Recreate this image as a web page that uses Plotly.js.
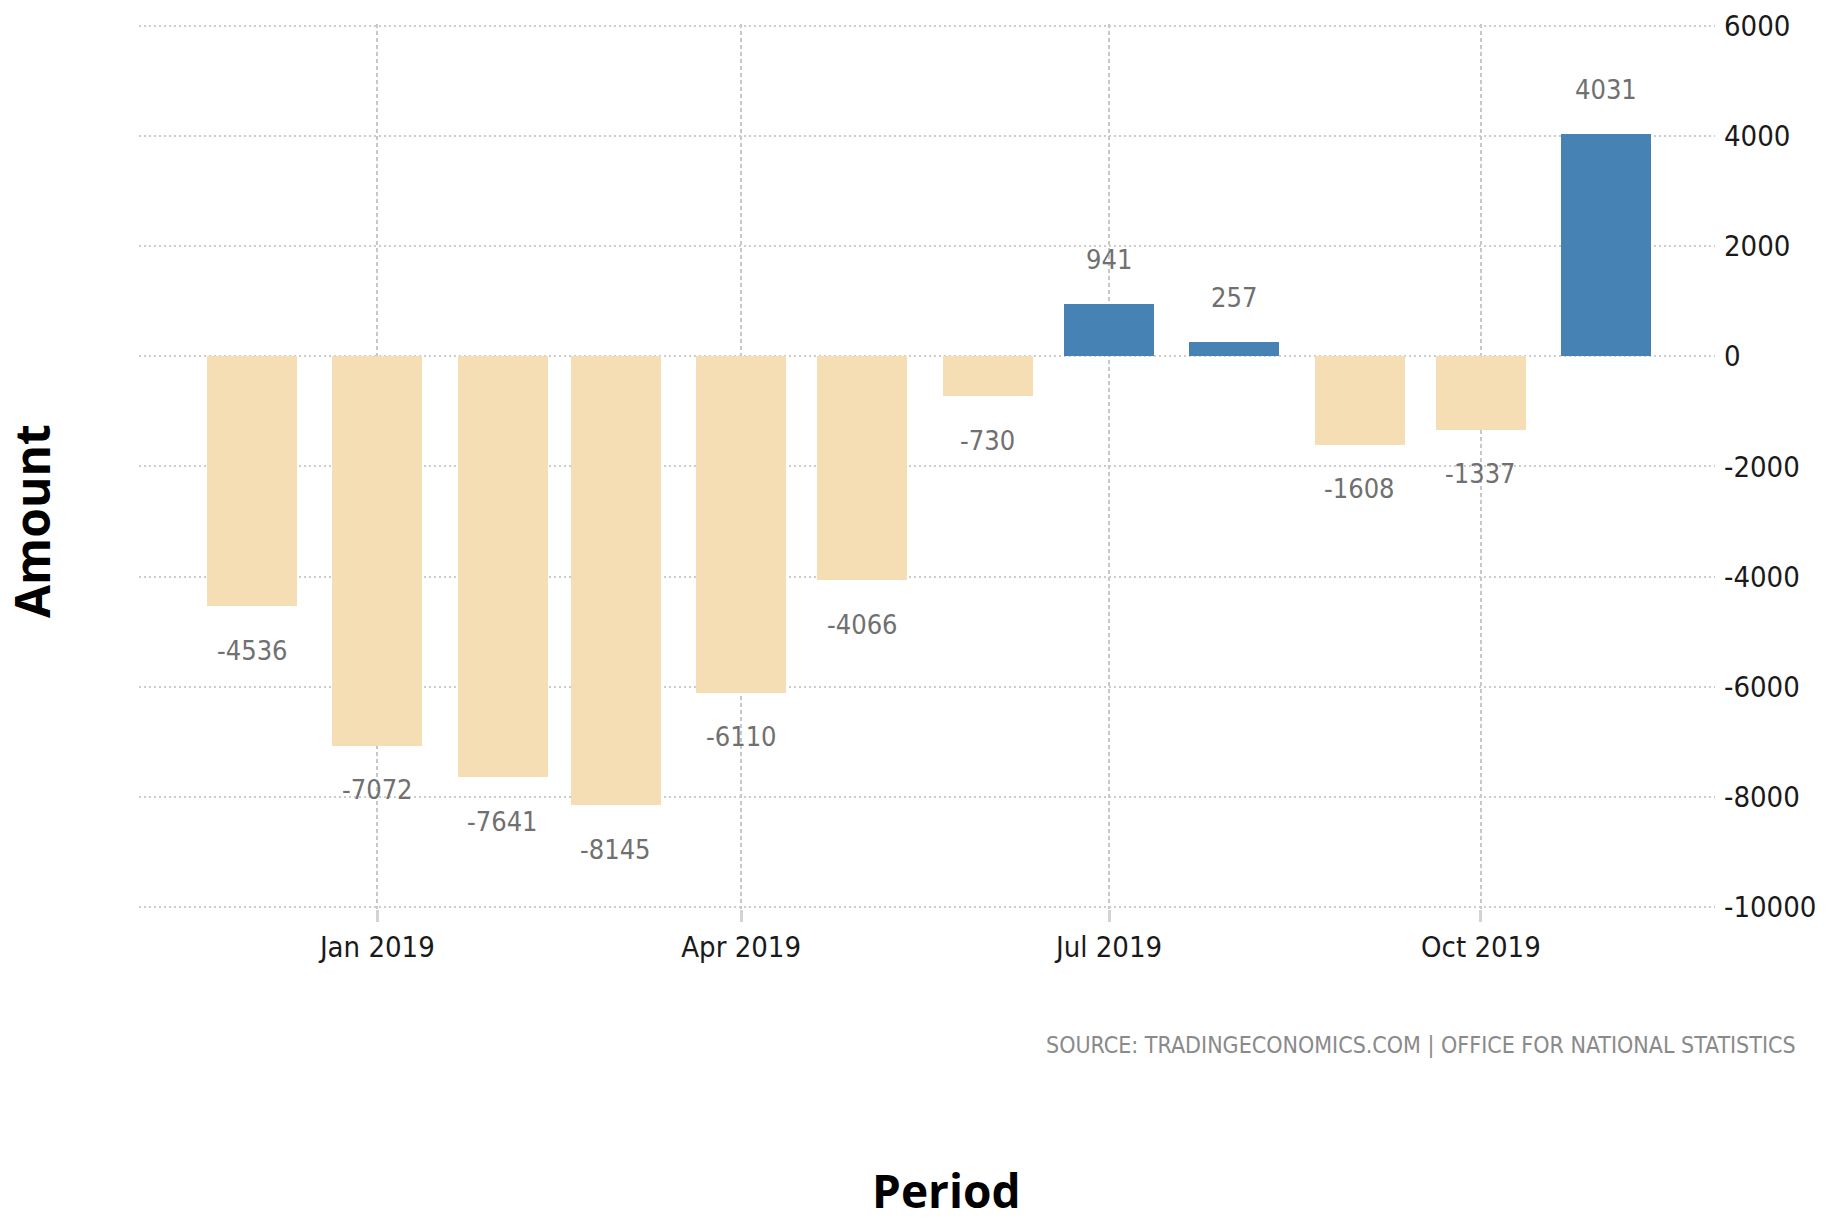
<!DOCTYPE html>
<html>
<head>
<meta charset="utf-8">
<script src="https://cdn.plot.ly/plotly-3.0.1.min.js"></script>
<style>html,body{margin:0;padding:0;background:#fff;}#chart{width:1827px;height:1221px;}</style>
</head>
<body>
<div id="chart"></div>
<script>
// ---- data ----
const months = ['2018-12-01','2019-01-01','2019-02-01','2019-03-01','2019-04-01','2019-05-01',
                '2019-06-01','2019-07-01','2019-08-01','2019-09-01','2019-10-01','2019-11-01'];
const values = [-4536, -7072, -7641, -8145, -6110, -4066, -730, 941, 257, -1608, -1337, 4031];
const xTickVals = ['2019-01-01','2019-04-01','2019-07-01','2019-10-01'];
const xTickText = ['Jan 2019','Apr 2019','Jul 2019','Oct 2019'];
const yTickVals = [6000, 4000, 2000, 0, -2000, -4000, -6000, -8000, -10000];
const yTickText = yTickVals.map(v => String(v));
const sourceText = 'SOURCE: TRADINGECONOMICS.COM | OFFICE FOR NATIONAL STATISTICS';

// ---- styling ----
const POS = '#4682B4', NEG = '#F5DEB3';
const NARROW = '"Liberation Sans Narrow", "DejaVu Sans Condensed", "Arial Narrow", sans-serif';
const DAY = 86400000;

const trace = {
  type: 'bar',
  x: months,
  y: values,
  width: months.map(() => 22.26 * DAY),
  marker: {color: values.map(v => v >= 0 ? POS : NEG), line: {width: 0}},
  hoverinfo: 'x+y'
};

const labelAnns = months.map((m, i) => ({
  x: m, y: values[i], xref: 'x', yref: 'y',
  text: String(values[i]), showarrow: false,
  xanchor: 'center', yanchor: 'middle',
  yshift: values[i] >= 0 ? 45 : -44,
  font: {family: NARROW, size: 27, color: '#707070'}
}));

const layout = {
  width: 1827, height: 1221,
  margin: {l: 139, r: 112, t: 24, b: 312, pad: 0, autoexpand: false},
  paper_bgcolor: '#ffffff', plot_bgcolor: '#ffffff',
  showlegend: false,
  bargap: 0,
  xaxis: {
    type: 'date',
    range: ['2018-11-03 01:00', '2019-11-27 21:36'],
    tickvals: xTickVals, ticktext: xTickText,
    showgrid: true, gridcolor: '#c8c8c8', gridwidth: 2, griddash: '4px,3px',
    ticks: 'outside', ticklen: 12, tickwidth: 3, tickcolor: '#d3d3d3',
    ticklabelstandoff: 0,
    showline: false, zeroline: false, automargin: false,
    tickfont: {family: NARROW, size: 29, color: '#1a1a1a'}
  },
  yaxis: {
    side: 'right',
    range: [-10031, 6029],
    tickvals: yTickVals, ticktext: yTickText,
    showgrid: true, gridcolor: '#cccccc', gridwidth: 2, griddash: '2px,3px',
    ticks: '', showline: false, zeroline: false, automargin: false,
    ticklabelstandoff: 8,
    tickfont: {family: NARROW, size: 29, color: '#1a1a1a'}
  },
  annotations: labelAnns.concat([
    {text: sourceText, xref: 'paper', yref: 'paper', x: 1.0527, y: -0.1537,
     xanchor: 'right', yanchor: 'middle', showarrow: false,
     font: {family: NARROW, size: 23, color: '#8a8a8a'}},
    {text: '<b>Amount</b>', xref: 'paper', yref: 'paper', x: -0.0685, y: 0.4384,
     xanchor: 'center', yanchor: 'middle', textangle: -90, showarrow: false,
     font: {family: '"Open Sans", "Noto Sans", sans-serif', size: 48, color: '#000000'}},
    {text: '<b>Period</b>', xref: 'paper', yref: 'paper', x: 0.5124, y: -0.3175,
     xanchor: 'center', yanchor: 'middle', showarrow: false,
     font: {family: '"Open Sans", "Noto Sans", sans-serif', size: 46, color: '#000000'}}
  ])
};

Plotly.newPlot('chart', [trace], layout, {displayModeBar: false, staticPlot: true});
</script>
</body>
</html>
